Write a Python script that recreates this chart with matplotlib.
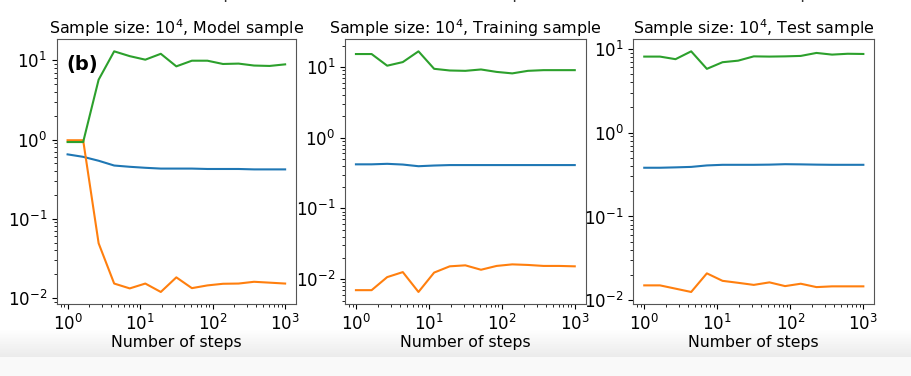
import numpy as np
import matplotlib.pyplot as plt

# steps (log-spaced, 15 points)
steps = [1.0, 1.64, 2.68, 4.39, 7.20, 11.8, 19.3, 31.6, 51.8, 84.8, 139, 228, 373, 611, 1000]

titles = ["Model sample", "Training sample", "Test sample"]

blue_vals = [
    [0.65, 0.605, 0.54, 0.47, 0.453, 0.44, 0.43, 0.43, 0.43, 0.425, 0.425, 0.425, 0.42, 0.42, 0.42],
    [0.42, 0.42, 0.427, 0.417, 0.395, 0.404, 0.41, 0.41, 0.41, 0.41, 0.41, 0.41, 0.41, 0.41, 0.41],
    [0.381, 0.381, 0.385, 0.39, 0.406, 0.413, 0.413, 0.413, 0.415, 0.42, 0.418, 0.415, 0.413, 0.413, 0.413],
]
orange_vals = [
    [0.98, 0.98, 0.049, 0.0152, 0.0132, 0.0152, 0.0119, 0.0182, 0.0133, 0.0144, 0.0151, 0.0152, 0.016, 0.0156, 0.0152],
    [0.0070, 0.0070, 0.0107, 0.0126, 0.0066, 0.0124, 0.0152, 0.0157, 0.0136, 0.0154, 0.0162, 0.0159, 0.0154, 0.0154, 0.0152],
    [0.0151, 0.0151, 0.0138, 0.0126, 0.021, 0.0171, 0.0162, 0.0153, 0.0164, 0.0148, 0.0158, 0.0144, 0.0147, 0.0147, 0.0147],
]
green_vals = [
    [0.93, 0.93, 5.7, 13.0, 11.3, 10.2, 12.1, 8.4, 9.9, 9.9, 9.0, 9.1, 8.6, 8.5, 8.9],
    [15.2, 15.2, 10.4, 11.7, 16.6, 9.4, 8.9, 8.8, 9.2, 8.5, 8.1, 8.8, 9.0, 9.0, 9.0],
    [8.05, 8.05, 7.5, 9.3, 5.75, 6.9, 7.2, 8.1, 8.05, 8.1, 8.2, 8.9, 8.5, 8.7, 8.65],
]

W, H = 911, 376
fig = plt.figure(figsize=(W / 100, H / 100), dpi=100)

# faint gray band at the bottom (page background in the screenshot)
bg = fig.add_axes([0, 0, 1, 1], zorder=-5)
bg.axis('off')
grad = np.ones((H, 1))
band = np.linspace(0, 1, 357 - 328)
grad[328:357, 0] = 1 - 0.08 * band
grad[357:, 0] = 0.975
bg.imshow(grad, cmap='gray', vmin=0, vmax=1, aspect='auto', extent=[0, 1, 0, 1])

lefts = [56.7, 345, 633.3]
widths = [239.3, 240.7, 241]
top, bottom = 39.3, 304

axes = []
for i in range(3):
    ax = fig.add_axes([lefts[i] / W, (H - bottom) / H, widths[i] / W, (bottom - top) / H])
    ax.plot(steps, blue_vals[i], color='#1f77b4', lw=1.5)
    ax.plot(steps, orange_vals[i], color='#ff7f0e', lw=1.5)
    ax.plot(steps, green_vals[i], color='#2ca02c', lw=1.5)
    ax.set_xscale('log')
    ax.set_yscale('log')
    ax.set_xticks([1, 10, 100, 1000])
    ax.set_title(f"Sample size: $10^4$, {titles[i]}", fontsize=11.4, pad=4)
    ax.set_xlabel("Number of steps", fontsize=11.3, labelpad=1)
    ax.tick_params(labelsize=12)
    for s in ax.spines.values():
        s.set_color('#555555')
    # cut-off label from the row above
    fig.text((lefts[i] + widths[i] / 2) / W, 1.0 + 0.014, "Number of steps",
             ha='center', va='center', fontsize=11.3, color='#333333')
    axes.append(ax)

axes[0].text(0.04, 0.94, "(b)", transform=axes[0].transAxes,
             fontsize=14, fontweight='bold', va='top', ha='left')

fig.savefig("out.png", dpi=100)
